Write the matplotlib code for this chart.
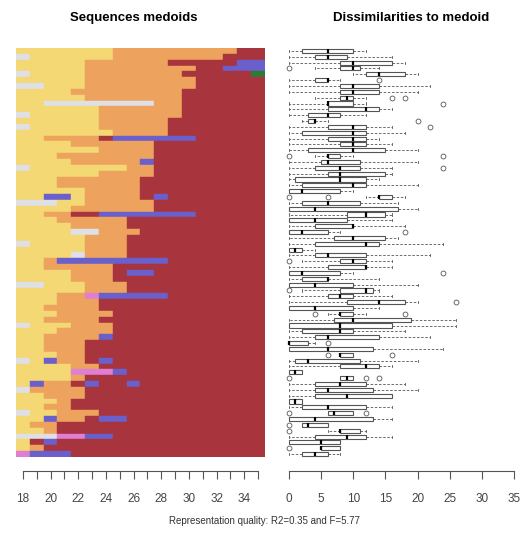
import matplotlib
matplotlib.use("Agg")
import matplotlib.pyplot as plt

plt.rcParams['font.family'] = ['Liberation Sans', 'DejaVu Sans']

# ---- data ----
ages = list(range(18, 36))
age_labels = [str(a) if (a % 2 == 0 and a <= 34) else "" for a in ages]

state_colors = {
    "Y": "#F3D873",   # light yellow
    "G": "#DFDFE6",   # light grey / lavender
    "O": "#EDA35E",   # orange
    "R": "#A8343E",   # dark red
    "B": "#6A5FCB",   # blue
    "P": "#DE7FD2",   # pink
    "N": "#2E7B35",   # green
}

# one string per medoid, one letter per age 18..35 (top row first)
sequences = [
    "YYYYYYYOOOOOOOOORR", "GYYYYYYOOOOOOOORRR", "YYYYYOOOOOORRRRRBB",
    "YYYYYOOOOOOOORRBBB", "GYYYYOOOOOOORRRRRN", "YYYYYOOOOOOOORRRRR",
    "GGYYYOOOOOOOORRRRR", "YYYYOOOOOOOORRRRRR", "YYYYYOOOOOOORRRRRR",
    "YYGGGGGGGGOORRRRRR", "YYYYYYOOOOOORRRRRR", "GYYYYYOOOOOORRRRRR",
    "YYYYYYOOOOORRRRRRR", "GYYYYYOOOOORRRRRRR", "YYYYYYYOOOORRRRRRR",
    "YYOOOORBBBBBBRRRRR", "YYYYOOOOOORRRRRRRR", "YYYYYYOOOORRRRRRRR",
    "YYYOOOOOOORRRRRRRR", "YYYYOOOOOBRRRRRRRR", "GYYYYYYYOORRRRRRRR",
    "YYYYYYOOOORRRRRRRR", "YYYOOOOOORRRRRRRRR", "YYYOOOOOORRRRRRRRR",
    "YYYYYOOOORRRRRRRRR", "YYBBYOOOORBRRRRRRR", "GGGYYOOOOORRRRRRRR",
    "YYYYOOOOOORRRRRRRR", "YYOORRBBBBBBBRRRRR", "YYYOOOOORRRRRRRRRR",
    "YYYYOOOORRRRRRRRRR", "YYYYGGOOORRRRRRRRR", "YYYYYOOORRRRRRRRRR",
    "GYYYYOOORRRRRRRRRR", "YYYYYOOORRRRRRRRRR", "YYYYGOOORRRRRRRRRR",
    "YYOBBBBBBBBRRRRRRR", "YYOOOOORRRRRRRRRRR", "YYYYOOORBBRRRRRRRR",
    "YYYYOOORRRRRRRRRRR", "GGYYYOOORRRRRRRRRR", "YYYYYOOORRRRRRRRRR",
    "YYYOOPBBBBBRRRRRRR", "YYYOOORRRRRRRRRRRR", "YYOOOORRRRRRRRRRRR",
    "YYYOOOORRRRRRRRRRR", "YYOOOORRRRRRRRRRRR", "GYYYOOORRRRRRRRRRR",
    "YYYOOOORRRRRRRRRRR", "YYOOOOBRRRRRRRRRRR", "YYOOORRRRRRRRRRRRR",
    "YYOOORRRRRRRRRRRRR", "YYYOORRRRRRRRRRRRR", "GYBOORBRRRRRRRRRRR",
    "YYYYOORRRRRRRRRRRR", "YYYYPPPBRRRRRRRRRR", "YYYYORRRRRRRRRRRRR",
    "YBOORBRRBRRRRRRRRR", "GOOOORRRRRRRRRRRRR", "YYOOORRRRRRRRRRRRR",
    "YYYORRRRRRRRRRRRRR", "YYOORRRRRRRRRRRRRR", "GYYOOORRRRRRRRRRRR",
    "YYBOORBBRRRRRRRRRR", "YOORRRRRRRRRRRRRRR", "YYORRRRRRRRRRRRRRR",
    "GGGPPBBRRRRRRRRRRR", "YRBRRRRRRRRRRRRRRR", "YORRRRRRRRRRRRRRRR",
    "PBBBRRRRRRRRRRRRRR",
]

# dissimilarities to each medoid: boxplot summaries (same row order)
box_lo = [0, 0, 0, 4, 10, 0, 0, 0, 4, 0, 0, 0, 2, 0, 0, 0, 0, 0, 4, 0,
          0, 0, 0, 0, 0, 12, 0, 0, 0, 0, 0, 0, 0, 0, 0, 0, 2, 0, 0, 0,
          0, 2, 0, 0, 0, 6, 0, 0, 0, 0, 0, 0, 8, 0, 0, 0, 8, 0, 0, 0,
          0, 0, 6, 0, 2, 6, 0, 0, 5, 0]
box_q1 = [2, 4, 8, 8, 12, 4, 8, 8, 8, 6, 6, 3, 3, 6, 2, 6, 8, 3, 6, 5,
          4, 6, 1, 2, 0, 14, 2, 0, 9, 0, 4, 0, 7, 4, 0, 4, 8, 6, 0, 2,
          0, 8, 6, 9, 0, 8, 7, 0, 2, 4, 0, 0, 8, 1, 8, 0, 8, 4, 4, 4,
          0, 2, 6, 0, 2, 8, 4, 0, 5, 2]
box_med = [6, 6, 10, 10, 14, 6, 10, 10, 9, 6, 12, 6, 4, 10, 10, 10, 10, 10, 6, 6,
           8, 8, 8, 10, 2, 14, 6, 4, 12, 4, 10, 2, 10, 12, 1, 6, 10, 12, 2, 6,
           4, 12, 8, 14, 4, 8, 10, 8, 8, 6, 0, 6, 8, 3, 12, 1, 9, 8, 6, 9,
           1, 6, 7, 4, 3, 8, 9, 5, 5, 4]
box_q3 = [10, 9, 16, 11, 18, 6, 14, 14, 10, 10, 14, 8, 4, 12, 12, 12, 12, 15, 8, 11,
          11, 15, 12, 12, 8, 16, 11, 17, 15, 9, 10, 6, 15, 14, 2, 12, 12, 12, 8, 6,
          10, 13, 10, 18, 10, 10, 19, 16, 10, 14, 3, 13, 10, 11, 14, 2, 10, 12, 13, 16,
          2, 12, 10, 13, 6, 11, 12, 8, 8, 6]
box_hi = [12, 16, 18, 14, 20, 8, 22, 20, 12, 12, 16, 12, 6, 16, 18, 14, 16, 20, 10, 20,
          16, 16, 14, 20, 10, 18, 17, 20, 16, 16, 18, 8, 17, 24, 4, 22, 16, 16, 10, 14,
          20, 14, 16, 20, 14, 12, 26, 26, 18, 22, 4, 24, 10, 20, 16, 2, 10, 18, 20, 16,
          2, 16, 10, 16, 6, 12, 16, 8, 8, 8]
box_out = [[], [], [], [0], [], [14], [], [], [16, 18], [24],
           [], [], [20], [22], [], [], [], [], [0, 24], [],
           [24], [], [], [], [], [0, 6], [], [], [], [],
           [], [18], [], [], [], [], [0], [], [24], [],
           [], [0], [], [26], [], [4, 18], [], [], [], [],
           [6], [], [6, 16], [], [], [], [0, 12, 14], [], [], [],
           [], [], [0, 12], [], [0], [0], [], [], [0], []]

n_rows = len(sequences)
rows = list(range(1, n_rows + 1))

W, H = 529, 537
fig = plt.figure(figsize=(W / 100, H / 100), dpi=100)

axis_grey = "#555555"


def style_axis(ax, lo, hi):
    for side in ("top", "right", "left"):
        ax.spines[side].set_visible(False)
    ax.spines["bottom"].set_position(("outward", 10))
    ax.spines["bottom"].set_bounds(lo, hi)
    ax.spines["bottom"].set_color(axis_grey)
    ax.spines["bottom"].set_linewidth(0.8)
    ax.set_yticks([])
    ax.tick_params(axis="x", direction="out", length=6, width=0.8,
                   color=axis_grey, labelcolor="#444444", labelsize=8.5, pad=10)


# ---- left: sequences medoids ----
ax1 = fig.add_axes([16 / W, 80 / H, 249 / W, 409 / H])
for r, seq in zip(rows, sequences):
    start = 0
    while start < len(seq):
        end = start
        while end < len(seq) and seq[end] == seq[start]:
            end += 1
        ax1.barh(r, end - start, left=ages[start] - 0.5, height=1.0,
                 color=state_colors[seq[start]], edgecolor=state_colors[seq[start]],
                 linewidth=0.3)
        start = end
ax1.set_xlim(ages[0] - 0.5, ages[-1] + 0.5)
ax1.set_ylim(n_rows + 0.5, 0.5)
ax1.set_xticks(ages)
ax1.set_xticklabels(age_labels)
style_axis(ax1, ages[0], ages[-1])

# ---- right: dissimilarities to medoid ----
ax2 = fig.add_axes([289 / W, 80 / H, 225 / W, 409 / H])
stats = []
for i in range(n_rows):
    stats.append(dict(whislo=box_lo[i], q1=box_q1[i], med=box_med[i],
                      q3=box_q3[i], whishi=box_hi[i], fliers=box_out[i]))
ax2.bxp(stats, positions=rows, orientation="horizontal", widths=0.7,
        patch_artist=True, manage_ticks=False,
        boxprops=dict(facecolor="white", edgecolor="#555555", linewidth=0.8),
        medianprops=dict(color="black", linewidth=1.6),
        whiskerprops=dict(color="#555555", linewidth=0.6, linestyle=(0, (3, 2))),
        capprops=dict(color="#555555", linewidth=0.6),
        flierprops=dict(marker="o", markersize=3.5, markerfacecolor="none",
                        markeredgecolor="#555555", markeredgewidth=0.6))
for art in ax2.get_children():
    try:
        art.set_clip_on(False)
    except AttributeError:
        pass
ax2.set_xlim(0, 35)
ax2.set_ylim(n_rows + 0.5, 0.5)
ax2.set_xticks(range(0, 36, 5))
style_axis(ax2, 0, 35)

# ---- titles and note ----
fig.text(134 / W, 1 - 18 / H, "Sequences medoids", ha="center", va="center",
         fontsize=9.5, fontweight="bold")
fig.text(411 / W, 1 - 18 / H, "Dissimilarities to medoid", ha="center", va="center",
         fontsize=9.5, fontweight="bold")
fig.text(264 / W, 1 - 521 / H, "Representation quality: R2=0.35 and F=5.77",
         ha="center", va="center", fontsize=7, color="#333333")

fig.savefig("out.png", dpi=100)
